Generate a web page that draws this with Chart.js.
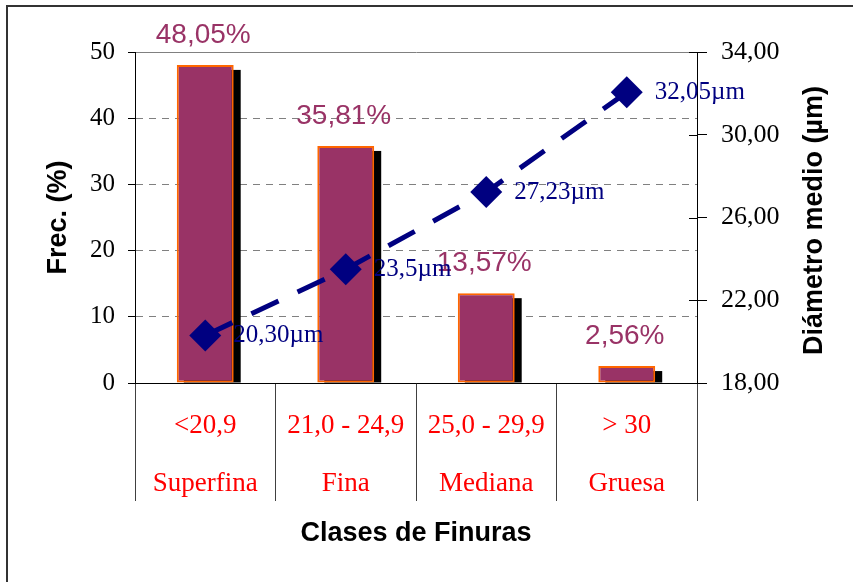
<!DOCTYPE html>
<html>
<head>
<meta charset="utf-8">
<script src="https://cdn.jsdelivr.net/npm/chart.js@4/dist/chart.umd.min.js"></script>
<style>
html, body { margin: 0; padding: 0; background: #fff; overflow: hidden; }
#wrap { position: relative; width: 853px; height: 582px; overflow: hidden; }
#frame { position: absolute; left: 6px; top: 5px; width: 900px; height: 700px; border-left: 2px solid #333; border-top: 2px solid #333; }
canvas { position: absolute; left: 0; top: 0; }
</style>
</head>
<body>
<div id="wrap"><div id="frame"></div><canvas id="chart" width="853" height="582"></canvas></div>
<script>
// datos del grafico
const rangeLabels = ['<20,9', '21,0 - 24,9', '25,0 - 29,9', '> 30'];
const classNames = ['Superfina', 'Fina', 'Mediana', 'Gruesa'];
const freqValues = [48.05, 35.81, 13.57, 2.56];
const freqLabels = ['48,05%', '35,81%', '13,57%', '2,56%'];
const diamValues = [20.30, 23.5, 27.23, 32.05];
const diamLabels = ['20,30µm', '23,5µm', '27,23µm', '32,05µm'];
const freqTicks = [0, 10, 20, 30, 40, 50];
const diamTicks = [18, 22, 26, 30, 34];

const SERIF = "'Liberation Serif', 'Times New Roman', serif";
const SANS = "'Liberation Sans', Arial, sans-serif";

// sombra de barras, etiquetas, titulo derecho
const decorations = {
    id: 'decorations',
    beforeDatasetDraw(chart, args) {
        if (args.meta.type !== 'bar') return;
        const ctx = chart.ctx;
        ctx.save();
        ctx.fillStyle = '#000';
        args.meta.data.forEach(bar => {
            const w = bar.width;
            ctx.fillRect(bar.x - w / 2 + 7, bar.y + 5, w, bar.base - bar.y - 5);
        });
        ctx.restore();
    },
    afterDatasetsDraw(chart) {
        const ctx = chart.ctx;
        ctx.save();
        const bars = chart.getDatasetMeta(1).data;
        ctx.font = `28px ${SANS}`;
        ctx.fillStyle = '#993366';
        ctx.textAlign = 'center';
        ctx.textBaseline = 'alphabetic';
        bars.forEach((bar, i) => ctx.fillText(freqLabels[i], bar.x - 2, bar.y - 22));

        const pts = chart.getDatasetMeta(0).data;
        ctx.font = `25px ${SERIF}`;
        ctx.fillStyle = '#000080';
        ctx.textAlign = 'left';
        ctx.textBaseline = 'middle';
        pts.forEach((p, i) => ctx.fillText(diamLabels[i], p.x + 28, p.y));
        ctx.restore();
    },
    afterDraw(chart) {
        const ctx = chart.ctx;
        const area = chart.chartArea;
        const y1 = chart.scales.y1;
        ctx.save();
        // marcas interiores del eje derecho
        ctx.strokeStyle = '#000';
        ctx.lineWidth = 1;
        y1.ticks.forEach(t => {
            const py = Math.round(y1.getPixelForValue(t.value)) + 0.5;
            ctx.beginPath();
            ctx.moveTo(area.right - 8, py);
            ctx.lineTo(area.right, py);
            ctx.stroke();
        });
        // titulo eje derecho (de abajo hacia arriba)
        ctx.translate(815, (area.top + area.bottom) / 2 + 3);
        ctx.rotate(-Math.PI / 2);
        ctx.font = `bold 27px ${SANS}`;
        ctx.fillStyle = '#000';
        ctx.textAlign = 'center';
        ctx.textBaseline = 'middle';
        ctx.fillText('Diámetro medio (µm)', 0, 0);
        ctx.restore();
    }
};

new Chart(document.getElementById('chart'), {
    type: 'bar',
    data: {
        labels: rangeLabels.map((r, i) => [r, classNames[i]]),
        datasets: [{
            type: 'line',
            label: 'Diámetro medio',
            data: diamValues,
            yAxisID: 'y1',
            order: 0,
            borderColor: '#000080',
            borderWidth: 5,
            borderDash: [30, 21],
            tension: 0,
            fill: false,
            pointStyle: 'rectRot',
            pointRadius: 16,
            pointBackgroundColor: '#000080',
            pointBorderColor: '#000080',
            pointBorderWidth: 0
        }, {
            type: 'bar',
            label: 'Frec.',
            data: freqValues,
            yAxisID: 'y',
            order: 1,
            backgroundColor: '#993366',
            borderColor: '#FF6600',
            borderWidth: 2,
            borderSkipped: false,
            barPercentage: 0.405,
            categoryPercentage: 1
        }]
    },
    options: {
        responsive: false,
        devicePixelRatio: 1,
        animation: false,
        layout: { padding: { top: 52, left: 0, right: 0, bottom: 0 } },
        plugins: {
            legend: { display: false },
            tooltip: { enabled: false }
        },
        scales: {
            x: {
                offset: true,
                afterFit: s => { s.height = 199; },
                grid: {
                    offset: true,
                    drawOnChartArea: false,
                    drawTicks: true,
                    tickLength: 118,
                    tickColor: '#404040',
                    tickWidth: 1
                },
                border: { color: '#000', width: 1 },
                ticks: {
                    color: '#FF0000',
                    font: { family: SERIF, size: 27, lineHeight: 58 / 27 },
                    padding: -104,
                    autoSkip: false,
                    maxRotation: 0
                },
                title: {
                    display: true,
                    text: 'Clases de Finuras',
                    color: '#000',
                    font: { family: SANS, size: 27, weight: 'bold' },
                    padding: { top: 0, bottom: 32 }
                }
            },
            y: {
                position: 'left',
                min: 0,
                max: 50,
                afterFit: s => { s.width = 135; },
                afterBuildTicks: s => { s.ticks = freqTicks.map(v => ({ value: v })); },
                grid: {
                    color: c => (c.tick && c.tick.value === 0) ? '#000' : '#808080',
                    lineWidth: 1,
                    tickLength: 7,
                    tickColor: '#000'
                },
                border: {
                    color: '#000',
                    width: 1,
                    dash: c => (c.tick && c.tick.value > 0 && c.tick.value < 50) ? [7, 6] : []
                },
                ticks: {
                    color: '#000',
                    font: { family: SERIF, size: 25 },
                    padding: 13
                },
                title: {
                    display: true,
                    text: 'Frec. (%)',
                    color: '#000',
                    font: { family: SANS, size: 27, weight: 'bold' },
                    padding: { top: 42, bottom: 0 }
                }
            },
            y1: {
                position: 'right',
                min: 18,
                max: 34,
                afterFit: s => { s.width = 156; },
                afterBuildTicks: s => { s.ticks = diamTicks.map(v => ({ value: v })); },
                grid: {
                    drawOnChartArea: false,
                    tickLength: 10,
                    tickColor: '#000'
                },
                border: { color: '#000', width: 1 },
                ticks: {
                    color: '#000',
                    font: { family: SERIF, size: 26 },
                    padding: 14,
                    callback: v => v.toFixed(2).replace('.', ',')
                }
            }
        }
    },
    plugins: [decorations]
});
</script>
</body>
</html>
